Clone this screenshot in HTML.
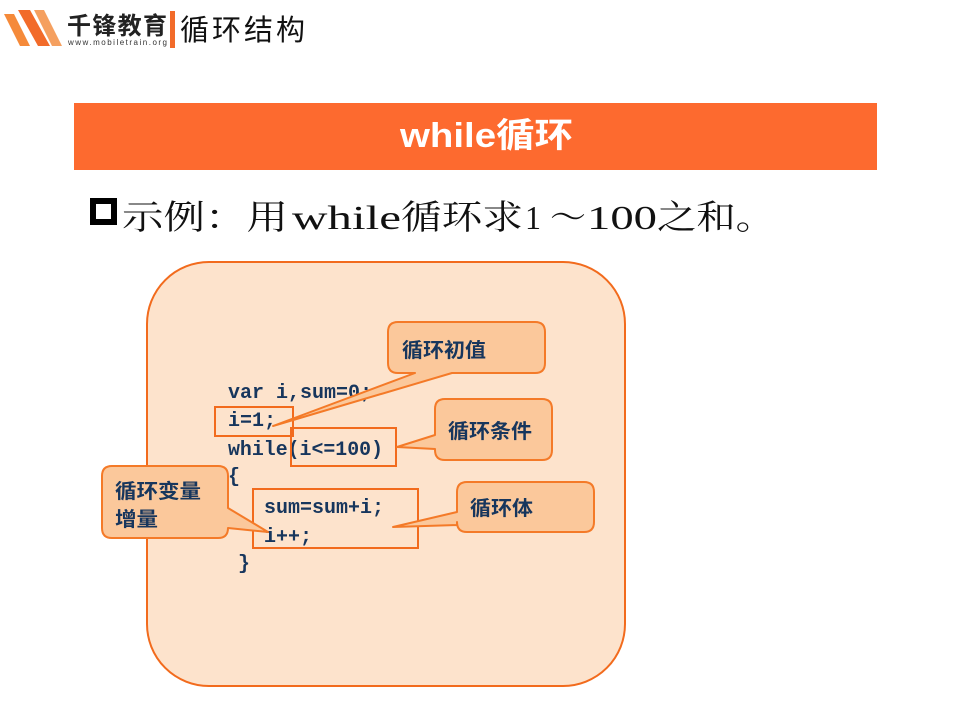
<!DOCTYPE html>
<html><head><meta charset="utf-8"><style>
body{margin:0;background:#fff}
svg{display:block}
</style></head><body>
<svg width="960" height="720" viewBox="0 0 960 720" xmlns="http://www.w3.org/2000/svg">
<!-- logo -->
<polygon points="4,14 14,14 30,46 20,46" fill="#f58a3a"/>
<polygon points="18,10 30,10 50,46 38,46" fill="#f26b2a"/>
<polygon points="34,10 44,10 62,46 52,46" fill="#f5a060"/>
<text x="67" y="34" font-family="Liberation Sans,'Noto Sans CJK SC',sans-serif" font-weight="bold" font-size="24" fill="#222" textLength="100">千锋教育</text>
<text x="68" y="45" font-family="Liberation Sans,sans-serif" font-size="8" fill="#333" textLength="99">www.mobiletrain.org</text>
<rect x="170" y="11" width="5" height="37" fill="#f26b2a"/>
<text x="180" y="40" font-family="Liberation Sans,'Noto Sans CJK SC',sans-serif" font-size="29" fill="#111" textLength="125">循环结构</text>
<!-- header bar -->
<rect x="74" y="103" width="803" height="67" fill="#fd6a2f"/>
<text x="400" y="147" font-family="Liberation Sans,'Noto Sans CJK SC',sans-serif" font-weight="bold" font-size="34" fill="#fff" textLength="173" lengthAdjust="spacingAndGlyphs">while循环</text>
<!-- bullet -->
<rect x="90" y="198" width="27" height="27" fill="#000"/>
<rect x="96" y="204" width="15" height="15" fill="#fff"/>
<g font-family="'Liberation Serif','Noto Serif CJK SC',serif" font-size="34" fill="#111" lengthAdjust="spacingAndGlyphs">
<text x="122" y="229" textLength="166" lengthAdjust="spacingAndGlyphs">示例：用</text>
<text x="292" y="229" textLength="109" lengthAdjust="spacingAndGlyphs">while</text>
<text x="401" y="229" textLength="122" lengthAdjust="spacingAndGlyphs">循环求</text>
<text x="525" y="229" textLength="16" lengthAdjust="spacingAndGlyphs">1</text>
<text x="550" y="229" textLength="36" lengthAdjust="spacingAndGlyphs">～</text>
<text x="587" y="229" textLength="70" lengthAdjust="spacingAndGlyphs">100</text>
<text x="657" y="229" textLength="118" lengthAdjust="spacingAndGlyphs">之和。</text>
</g>
<!-- big box -->
<rect x="147" y="262" width="478" height="424" rx="62" fill="#fde3cc" stroke="#f26b1d" stroke-width="2"/>
<!-- code -->
<g font-family="'Liberation Mono',monospace" font-weight="bold" font-size="20" fill="#17365d">
<text x="228" y="398" textLength="144" lengthAdjust="spacingAndGlyphs">var i,sum=0;</text>
<text x="228" y="426" textLength="48" lengthAdjust="spacingAndGlyphs">i=1;</text>
<text x="228" y="455" textLength="155" lengthAdjust="spacingAndGlyphs">while(i&lt;=100)</text>
<text x="228" y="482">{</text>
<text x="264" y="513" textLength="120" lengthAdjust="spacingAndGlyphs">sum=sum+i;</text>
<text x="264" y="542" textLength="48" lengthAdjust="spacingAndGlyphs">i++;</text>
<text x="238" y="569">}</text>
</g>
<g fill="none" stroke="#f26b1d" stroke-width="2">
<rect x="215" y="407" width="78" height="29"/>
<rect x="291" y="428" width="105" height="38"/>
<rect x="253" y="489" width="165" height="59"/>
</g>
<!-- callouts -->
<g fill="#fbc89b" stroke="#f47a28" stroke-width="2" stroke-linejoin="round">
<path d="M398,322 H535 Q545,322 545,332 V363 Q545,373 535,373 H452 L273,426 L415,373 H398 Q388,373 388,363 V332 Q388,322 398,322 Z"/>
<path d="M445,399 H542 Q552,399 552,409 V450 Q552,460 542,460 H445 Q435,460 435,450 V449 L397,447 L435,435 V409 Q435,399 445,399 Z"/>
<path d="M112,466 H218 Q228,466 228,476 V508 L268,532 L228,528 Q228,538 218,538 H112 Q102,538 102,528 V476 Q102,466 112,466 Z"/>
<path d="M467,482 H584 Q594,482 594,492 V522 Q594,532 584,532 H467 Q457,532 457,522 V525 L393,527 L457,512 V492 Q457,482 467,482 Z"/>
</g>
<g font-family="'Liberation Sans','Noto Sans CJK SC',sans-serif" font-weight="bold" font-size="20" fill="#17365d">
<text x="402" y="357" textLength="84" lengthAdjust="spacingAndGlyphs">循环初值</text>
<text x="448" y="438" textLength="84" lengthAdjust="spacingAndGlyphs">循环条件</text>
<text x="115" y="498" textLength="86" lengthAdjust="spacingAndGlyphs">循环变量</text>
<text x="115" y="526" textLength="43" lengthAdjust="spacingAndGlyphs">增量</text>
<text x="470" y="515" textLength="63" lengthAdjust="spacingAndGlyphs">循环体</text>
</g>
</svg>
</body></html>
